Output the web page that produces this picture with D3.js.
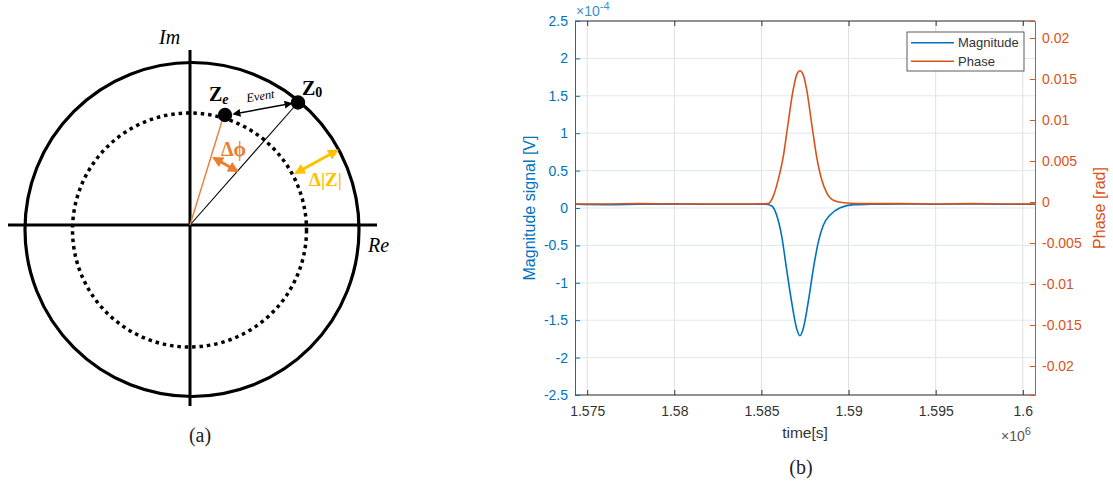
<!DOCTYPE html>
<html>
<head>
<meta charset="utf-8">
<script src="https://cdn.jsdelivr.net/npm/d3@7"></script>
<style>
  body { margin: 0; background: #fff; }
  svg text { font-family: "Liberation Sans", Arial, sans-serif; }
  .serif { font-family: "Liberation Serif", "DejaVu Serif", serif !important; }
</style>
</head>
<body>
<svg id="fig" width="1113" height="490"></svg>
<script>
// time axis is in units of 1e6 s, magnitude in units of 1e-4 V, phase in rad
var magTime = [1.5743, 1.5760, 1.5780, 1.5800, 1.5820, 1.5840, 1.5852,
  1.58558, 1.58587, 1.58615, 1.58644, 1.58673, 1.58702, 1.58721, 1.58740,
  1.58769, 1.58798, 1.58827, 1.58855, 1.58894, 1.58952, 1.59029, 1.59125,
  1.5930, 1.5950, 1.5970, 1.5990, 1.6007]
var magValues = [0.05, 0.045, 0.05, 0.055, 0.05, 0.05, 0.05,
  0.03, -0.094, -0.36, -0.81, -1.25, -1.61, -1.707, -1.61,
  -1.25, -0.81, -0.45, -0.23, -0.094, 0.004, 0.045, 0.05,
  0.055, 0.05, 0.055, 0.05, 0.05]

var phaseTime = [1.5743, 1.5760, 1.5780, 1.5800, 1.5820, 1.5840, 1.58538,
  1.58567, 1.58596, 1.58625, 1.58653, 1.58682, 1.58702, 1.58721, 1.58740,
  1.58760, 1.58788, 1.58817, 1.58846, 1.58875, 1.58913, 1.58971, 1.59048,
  1.5930, 1.5950, 1.5970, 1.5990, 1.6007]
var phaseValues = [-0.00025, -0.00025, -0.0002, -0.00025, -0.00025, -0.00025, -0.0002,
  0.00065, 0.0027, 0.0055, 0.0096, 0.01366, 0.0155, 0.0160, 0.0155,
  0.01366, 0.0096, 0.0055, 0.0027, 0.0011, 0.0002, -0.0001, -0.0002,
  -0.0002, -0.00025, -0.0002, -0.00025, -0.00025]

var xTicks = [1.575, 1.58, 1.585, 1.59, 1.595, 1.6]
var yLeftTicks = [-2.5, -2, -1.5, -1, -0.5, 0, 0.5, 1, 1.5, 2, 2.5]
var yRightTicks = [-0.02, -0.015, -0.01, -0.005, 0, 0.005, 0.01, 0.015, 0.02]
var seriesNames = ['Magnitude', 'Phase']

var blue = '#0072BD', orange = '#D95319', ink = '#333333'
var svg = d3.select('#fig')

// ---------------- (b) time trace with two y axes ----------------
var plot = { left: 575, right: 1035, top: 21, bottom: 395 }
var x = d3.scaleLinear().domain([1.5743, 1.6007]).range([plot.left, plot.right])
var yL = d3.scaleLinear().domain([-2.5, 2.5]).range([plot.bottom, plot.top])
var yR = d3.scaleLinear().domain([-0.02354, 0.02207]).range([plot.bottom, plot.top])

var b = svg.append('g')

// grid
b.append('g').selectAll('line').data(xTicks).enter().append('line')
    .attr('x1', d => x(d)).attr('x2', d => x(d))
    .attr('y1', plot.top).attr('y2', plot.bottom)
    .attr('stroke', '#e0e0e0').attr('stroke-width', 1)
b.append('g').selectAll('line').data(yLeftTicks).enter().append('line')
    .attr('x1', plot.left).attr('x2', plot.right)
    .attr('y1', d => yL(d)).attr('y2', d => yL(d))
    .attr('stroke', '#dbe8f3').attr('stroke-width', 1)

// curves
var magLine = d3.line().x(d => x(d[0])).y(d => yL(d[1])).curve(d3.curveMonotoneX)
var phaseLine = d3.line().x(d => x(d[0])).y(d => yR(d[1])).curve(d3.curveMonotoneX)
b.append('path').datum(d3.zip(magTime, magValues))
    .attr('d', magLine).attr('fill', 'none').attr('stroke', blue).attr('stroke-width', 1.6)
b.append('path').datum(d3.zip(phaseTime, phaseValues))
    .attr('d', phaseLine).attr('fill', 'none').attr('stroke', orange).attr('stroke-width', 1.6)

// axes
var fmt = d => String(d)
var xAxis = b.append('g')
    .attr('transform', 'translate(0,' + plot.bottom + ')')
    .call(d3.axisBottom(x).tickValues(xTicks).tickFormat(fmt).tickSize(-5).tickPadding(11))
var xTop = b.append('g')
    .attr('transform', 'translate(0,' + plot.top + ')')
    .call(d3.axisTop(x).tickValues(xTicks).tickFormat('').tickSize(-5))
var yAxisL = b.append('g')
    .attr('transform', 'translate(' + plot.left + ',0)')
    .call(d3.axisLeft(yL).tickValues(yLeftTicks).tickFormat(fmt).tickSize(-5).tickPadding(7))
var yAxisR = b.append('g')
    .attr('transform', 'translate(' + plot.right + ',0)')
    .call(d3.axisRight(yR).tickValues(yRightTicks).tickFormat(fmt).tickSize(-5).tickPadding(7))

function styleAxis(g, color) {
  g.select('.domain').attr('stroke', color).attr('stroke-width', 1)
  g.selectAll('.tick line').attr('stroke', color)
  g.selectAll('.tick text').attr('fill', color).style('font-size', '14px')
}
styleAxis(xAxis, ink)
styleAxis(xTop, ink)
styleAxis(yAxisL, blue)
styleAxis(yAxisR, orange)
xTop.select('.domain').attr('d', 'M' + plot.left + ',0H' + plot.right)
xAxis.select('.domain').attr('d', 'M' + plot.left + ',0H' + plot.right)

// axis labels
b.append('text').attr('x', (plot.left + plot.right) / 2).attr('y', 438)
    .attr('text-anchor', 'middle').attr('fill', ink).style('font-size', '15.5px').text('time[s]')
b.append('text').attr('transform', 'translate(535,' + ((plot.top + plot.bottom) / 2) + ') rotate(-90)')
    .attr('text-anchor', 'middle').attr('fill', blue).style('font-size', '16px').text('Magnitude signal [V]')
b.append('text').attr('transform', 'translate(1105,' + ((plot.top + plot.bottom) / 2) + ') rotate(-90)')
    .attr('text-anchor', 'middle').attr('fill', orange).style('font-size', '16px').text('Phase [rad]')

// exponent labels
var e1 = b.append('text').attr('x', 576).attr('y', 16).attr('fill', '#3d8fcf').style('font-size', '14px')
e1.append('tspan').text('×10')
e1.append('tspan').attr('dy', -6).style('font-size', '11px').text('-4')
var e2 = b.append('text').attr('x', 1001).attr('y', 441).attr('fill', '#555').style('font-size', '14px')
e2.append('tspan').text('×10')
e2.append('tspan').attr('dy', -6).style('font-size', '11px').text('6')

// legend
var leg = b.append('g').attr('transform', 'translate(907,32)')
leg.append('rect').attr('width', 117).attr('height', 39)
    .attr('fill', '#fff').attr('stroke', ink).attr('stroke-width', 0.8)
seriesNames.forEach(function(name, i) {
  var yy = 10.7 + i * 18.6
  leg.append('line').attr('x1', 4).attr('x2', 47).attr('y1', yy).attr('y2', yy)
      .attr('stroke', i == 0 ? blue : orange).attr('stroke-width', 1.6)
  leg.append('text').attr('x', 51).attr('y', yy).attr('dy', '0.35em')
      .attr('fill', ink).style('font-size', '13px').text(name)
})

svg.append('text').attr('class', 'serif').attr('x', 801).attr('y', 474)
    .attr('text-anchor', 'middle').attr('fill', '#222').style('font-size', '20px').text('(b)')

// ---------------- (a) complex-plane sketch ----------------
var amber = '#ED7D31', gold = '#FFC000'
var a = svg.append('g')
var defs = svg.append('defs')
function marker(id, color, size) {
  defs.append('marker').attr('id', id)
      .attr('viewBox', '0 0 10 10').attr('refX', 8).attr('refY', 5)
      .attr('markerWidth', size).attr('markerHeight', size)
      .attr('markerUnits', 'userSpaceOnUse')
      .attr('orient', 'auto-start-reverse')
    .append('path').attr('d', 'M0,0L10,5L0,10z').attr('fill', color)
}
marker('arrBlack', '#000', 8)
marker('arrAmber', amber, 11)
marker('arrGold', gold, 11)

var origin = [190, 225]
a.append('circle').attr('cx', 192).attr('cy', 229.5).attr('r', 167)
    .attr('fill', 'none').attr('stroke', '#000').attr('stroke-width', 3.2)
a.append('circle').attr('cx', 189.5).attr('cy', 230).attr('r', 117)
    .attr('fill', 'none').attr('stroke', '#000').attr('stroke-width', 3.5)
    .attr('stroke-dasharray', '3.5 3.9')
a.append('line').attr('x1', 8).attr('x2', 377).attr('y1', origin[1]).attr('y2', origin[1])
    .attr('stroke', '#000').attr('stroke-width', 3)
a.append('line').attr('x1', origin[0]).attr('x2', origin[0]).attr('y1', 50).attr('y2', 406)
    .attr('stroke', '#000').attr('stroke-width', 3)

var z0 = [298, 102.5], ze = [225, 115]
a.append('line').attr('x1', origin[0]).attr('y1', origin[1]).attr('x2', z0[0]).attr('y2', z0[1])
    .attr('stroke', '#000').attr('stroke-width', 1.1)
a.append('line').attr('x1', origin[0]).attr('y1', origin[1]).attr('x2', 222).attr('y2', 121)
    .attr('stroke', amber).attr('stroke-width', 1.4)
a.append('circle').attr('cx', z0[0]).attr('cy', z0[1]).attr('r', 7.2).attr('fill', '#000')
a.append('circle').attr('cx', ze[0]).attr('cy', ze[1]).attr('r', 7.2).attr('fill', '#000')

a.append('line').attr('x1', 234).attr('y1', 114).attr('x2', 291).attr('y2', 103.5)
    .attr('stroke', '#000').attr('stroke-width', 1.5)
    .attr('marker-start', 'url(#arrBlack)').attr('marker-end', 'url(#arrBlack)')
a.append('line').attr('x1', 214).attr('y1', 158).attr('x2', 237).attr('y2', 171)
    .attr('stroke', amber).attr('stroke-width', 3)
    .attr('marker-start', 'url(#arrAmber)').attr('marker-end', 'url(#arrAmber)')
a.append('line').attr('x1', 296).attr('y1', 173).attr('x2', 337).attr('y2', 150.5)
    .attr('stroke', gold).attr('stroke-width', 3)
    .attr('marker-start', 'url(#arrGold)').attr('marker-end', 'url(#arrGold)')

a.append('text').attr('class', 'serif').attr('x', 159).attr('y', 44)
    .style('font-size', '20px').style('font-style', 'italic').text('Im')
a.append('text').attr('class', 'serif').attr('x', 368).attr('y', 252)
    .style('font-size', '20px').style('font-style', 'italic').text('Re')
a.append('text').attr('class', 'serif').attr('transform', 'translate(261,100) rotate(-9)')
    .attr('text-anchor', 'middle').style('font-size', '12.5px').style('font-style', 'italic').text('Event')

var t0 = a.append('text').attr('class', 'serif').attr('x', 302).attr('y', 95)
    .style('font-size', '20px').style('font-weight', 'bold')
t0.append('tspan').text('Z')
t0.append('tspan').attr('dy', 2).style('font-size', '14px').text('0')
var te = a.append('text').attr('class', 'serif').attr('x', 209).attr('y', 101)
    .style('font-size', '20px').style('font-weight', 'bold')
te.append('tspan').text('Z')
te.append('tspan').attr('dy', 3).style('font-size', '14px').style('font-style', 'italic').text('e')

a.append('text').attr('class', 'serif').attr('x', 221).attr('y', 156)
    .attr('fill', amber).style('font-size', '20px').style('font-weight', 'bold').text('Δϕ')
a.append('text').attr('class', 'serif').attr('x', 309).attr('y', 186)
    .attr('fill', gold).style('font-size', '19px').style('font-weight', 'bold').text('Δ|Z|')

svg.append('text').attr('class', 'serif').attr('x', 200).attr('y', 442)
    .attr('text-anchor', 'middle').attr('fill', '#222').style('font-size', '20px').text('(a)')
</script>
</body>
</html>
